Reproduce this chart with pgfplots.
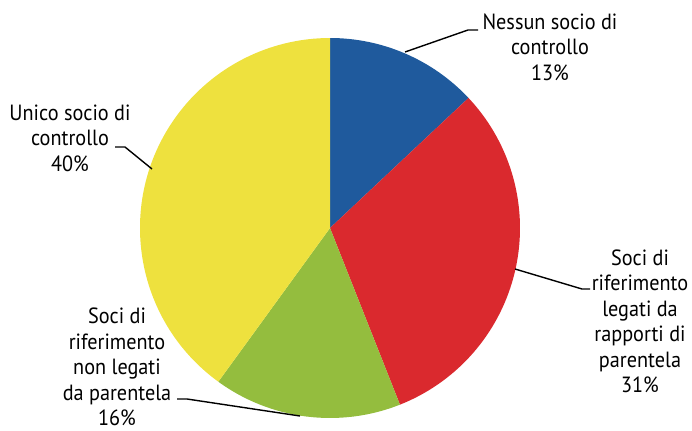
\documentclass[border=0pt]{standalone}
\usepackage{pgfplots}
\usepackage{pgfplotstable}
\pgfplotsset{compat=1.18}
\usepackage{fontspec}
\setmainfont[FakeStretch=0.92]{PT Sans}
\definecolor{cblue}{RGB}{31,90,157}
\definecolor{cred}{RGB}{218,41,46}
\definecolor{cgreen}{RGB}{148,189,62}
\definecolor{cyellow}{RGB}{238,225,62}
\pgfplotstableread{
share col
13 cblue
31 cred
16 cgreen
40 cyellow
}\piedata
\begin{document}
\begin{tikzpicture}
\pgfplotstablegetrowsof{\piedata}
\pgfmathtruncatemacro\lastrow{\pgfplotsretval-1}
\gdef\piecmds{}
\xdef\cum{0}
\foreach \i in {0,...,\lastrow}{
  \pgfplotstablegetelem{\i}{share}\of\piedata \let\vv\pgfplotsretval
  \pgfplotstablegetelem{\i}{col}\of\piedata \let\thecol\pgfplotsretval
  \pgfmathsetmacro\sa{90-3.6*\cum}
  \pgfmathsetmacro\ea{90-3.6*(\cum+\vv)}
  \pgfmathsetmacro\newcum{\cum+\vv}
  \xdef\cum{\newcum}
  \xdef\piecmds{\expandafter\unexpanded\expandafter{\piecmds}\noexpand\fill[\thecol] (axis cs:330,202) -- ([shift={(\sa:95pt)}]axis cs:330,202) arc[start angle=\sa, end angle=\ea, radius=95pt] -- cycle;}
}
\begin{axis}[width=346pt,height=215pt,scale only axis,
  xmin=0,xmax=692,ymin=0,ymax=430,hide axis,clip=false]
\path[draw=none] (axis cs:0,0) rectangle (axis cs:692,430);
\piecmds
\tikzset{lbl/.style={align=center,font=\fontsize{11}{12.75}\selectfont,inner sep=0pt}}
\node[lbl] at (axis cs:550,383) {Nessun socio di\\controllo\\13\%};
\node[lbl] at (axis cs:70,292) {Unico socio di\\controllo\\40\%};
\node[lbl] at (axis cs:117,63) {Soci di\\riferimento\\non legati\\da parentela\\16\%};
\node[lbl] at (axis cs:640,108.5) {Soci di\\riferimento\\legati da\\rapporti di\\parentela\\31\%};
\draw[line width=0.7pt] (axis cs:405,378) -- (axis cs:468,400) -- (axis cs:478,400);
\draw[line width=0.7pt] (axis cs:115,283) -- (axis cs:125,283) -- (axis cs:152,261);
\draw[line width=0.7pt] (axis cs:177,31) -- (axis cs:187,31) -- (axis cs:300,14);
\draw[line width=0.7pt] (axis cs:515,161) -- (axis cs:582,141) -- (axis cs:590,141);
\end{axis}
\end{tikzpicture}
\end{document}
